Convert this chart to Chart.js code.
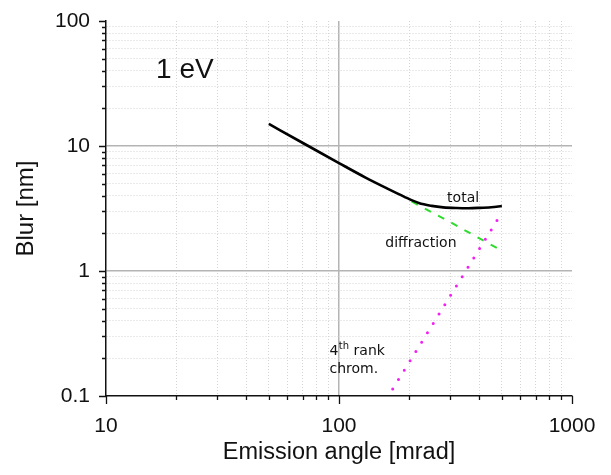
<!DOCTYPE html>
<html>
<head>
<meta charset="utf-8">
<script src="https://cdn.jsdelivr.net/npm/chart.js@4.4.1/dist/chart.umd.min.js"></script>
<style>
  html, body { margin: 0; padding: 0; background: #fff; }
  #wrap { width: 611px; height: 475px; }
</style>
</head>
<body>
<div id="wrap"><canvas id="blurChart"></canvas></div>
<script>
// values
const totalX = [50, 70, 100, 130, 160, 190, 220, 250, 280, 320, 360, 400, 450, 500]
const totalY = [15.0, 10.57, 7.3, 5.59, 4.6, 3.94, 3.5, 3.32, 3.23, 3.19, 3.18, 3.2, 3.24, 3.31]

const diffX = [205, 300, 485]
const diffY = [3.6, 2.46, 1.5]

const chromX = [170, 300, 483]
const chromY = [0.114, 0.63, 2.64]

const xTicks = [10, 20, 30, 40, 50, 60, 70, 80, 90,
  100, 200, 300, 400, 500, 600, 700, 800, 900, 1000]
const yTicks = [0.1, 0.2, 0.3, 0.4, 0.5, 0.6, 0.7, 0.8, 0.9,
  1, 2, 3, 4, 5, 6, 7, 8, 9,
  10, 20, 30, 40, 50, 60, 70, 80, 90, 100]
const xLabels = { 10: '10', 100: '100', 1000: '1000' }
const yLabels = { 0.1: '0.1', 1: '1', 10: '10', 100: '100' }

const notes = [
  { text: '1 eV', x: 16.4, y: 34.9, font: '28px "Liberation Sans", Arial, sans-serif' },
  { text: 'total', x: 291, y: 3.58 },
  { text: 'diffraction', x: 158, y: 1.57 },
  { text: '4', sup: 'th', rest: ' rank', x: 91, y: 0.214 },
  { text: 'chrom.', x: 91, y: 0.153 }
]

const isMajor = v => Math.abs(Math.log10(v) - Math.round(Math.log10(v))) < 1e-6
const pts = (xs, ys) => xs.map((x, i) => ({ x: x, y: ys[i] }))

const sansFont = '"Liberation Sans", Arial, sans-serif'
const noteFont = '"DejaVu Sans", Verdana, sans-serif'

const axisDecor = {
  id: 'axisDecor',
  afterDraw(chart) {
    const { ctx, scales: { x, y } } = chart
    ctx.save()
    ctx.strokeStyle = '#111'
    ctx.lineWidth = 1.3
    ctx.beginPath()
    xTicks.forEach(v => {
      const px = Math.round(x.getPixelForValue(v)) + 0.5
      ctx.moveTo(px, y.bottom)
      ctx.lineTo(px, y.bottom + (isMajor(v) ? 8 : 4))
    })
    yTicks.forEach(v => {
      const py = Math.round(y.getPixelForValue(v)) + 0.5
      ctx.moveTo(x.left, py)
      ctx.lineTo(x.left - (isMajor(v) ? 7 : 4), py)
    })
    ctx.stroke()

    ctx.fillStyle = '#111'
    ctx.textBaseline = 'alphabetic'
    notes.forEach(n => {
      const px = x.getPixelForValue(n.x)
      const py = y.getPixelForValue(n.y)
      ctx.font = n.font || ('14px ' + noteFont)
      ctx.fillText(n.text, px, py)
      if (n.sup) {
        let cx = px + ctx.measureText(n.text).width
        ctx.font = '10px ' + noteFont
        ctx.fillText(n.sup, cx + 0.5, py - 6)
        cx += ctx.measureText(n.sup).width + 0.5
        ctx.font = '14px ' + noteFont
        ctx.fillText(n.rest, cx, py)
      }
    })
    ctx.restore()
  }
}

function gridColor(ctx, ticks) {
  const v = ctx.tick && ctx.tick.value
  if (v === undefined) return 'rgba(0,0,0,0)'
  if (isMajor(v)) {
    return (v === ticks[0] || v === ticks[ticks.length - 1]) ? 'rgba(0,0,0,0)' : '#b4b4b4'
  }
  return '#d4d4d4'
}

new Chart(document.getElementById('blurChart'), {
  type: 'line',
  data: {
    datasets: [
      {
        label: 'total',
        data: pts(totalX, totalY),
        borderColor: '#000',
        borderWidth: 2.6,
        pointRadius: 0,
        cubicInterpolationMode: 'monotone',
        fill: false
      },
      {
        label: 'diffraction',
        data: pts(diffX, diffY),
        borderColor: '#2edb2e',
        borderWidth: 2,
        borderDash: [7, 8],
        pointRadius: 0,
        fill: false
      },
      {
        label: '4th rank chrom.',
        data: pts(chromX, chromY),
        borderColor: '#f21ff2',
        borderWidth: 3,
        borderDash: [0, 11],
        borderCapStyle: 'round',
        pointRadius: 0,
        fill: false
      }
    ]
  },
  options: {
    responsive: true,
    maintainAspectRatio: false,
    animation: false,
    layout: { padding: { top: 21, right: 39, left: 0, bottom: 0 } },
    plugins: {
      legend: { display: false },
      tooltip: { enabled: false }
    },
    scales: {
      x: {
        type: 'logarithmic',
        min: 10,
        max: 1000,
        afterBuildTicks: s => { s.ticks = xTicks.map(v => ({ value: v })) },
        afterFit: s => { s.height = 79; s.paddingLeft = 0; s.paddingRight = 0 },
        ticks: {
          autoSkip: false,
          maxRotation: 0,
          padding: 18,
          color: '#111',
          font: { family: sansFont, size: 21 },
          callback: v => xLabels[v] || ''
        },
        grid: {
          drawTicks: false,
          color: c => gridColor(c, xTicks),
          lineWidth: c => (c.tick && isMajor(c.tick.value)) ? 1.5 : 1
        },
        border: {
          display: true,
          color: '#111',
          width: 1.5,
          dash: c => (c.tick && !isMajor(c.tick.value)) ? [1, 2] : []
        },
        title: {
          display: true,
          text: 'Emission angle [mrad]',
          color: '#111',
          font: { family: sansFont, size: 23.5 },
          padding: { top: 0, bottom: 8 }
        }
      },
      y: {
        type: 'logarithmic',
        min: 0.1,
        max: 100,
        afterBuildTicks: s => { s.ticks = yTicks.map(v => ({ value: v })) },
        afterFit: s => { s.width = 106; s.paddingTop = 0; s.paddingBottom = 0 },
        ticks: {
          autoSkip: false,
          padding: 16,
          color: '#111',
          font: { family: sansFont, size: 21 },
          callback: v => yLabels[v] || ''
        },
        grid: {
          drawTicks: false,
          color: c => gridColor(c, yTicks),
          lineWidth: c => (c.tick && isMajor(c.tick.value)) ? 1.5 : 1
        },
        border: {
          display: true,
          color: '#111',
          width: 1.5,
          dash: c => (c.tick && !isMajor(c.tick.value)) ? [1, 2] : []
        },
        title: {
          display: true,
          text: 'Blur [nm]',
          color: '#111',
          font: { family: sansFont, size: 24 },
          padding: { top: 12, bottom: 0 }
        }
      }
    }
  },
  plugins: [axisDecor]
})
</script>
</body>
</html>
